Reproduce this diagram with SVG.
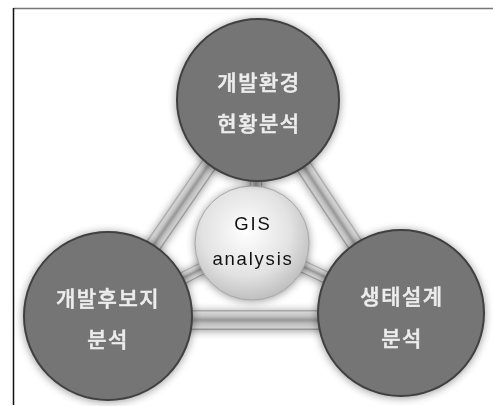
<svg xmlns="http://www.w3.org/2000/svg" width="493" height="406" viewBox="0 0 493 406">
<defs>
  <linearGradient id="tube" x1="0" y1="0" x2="0" y2="1">
    <stop offset="0" stop-color="#9a9a9a"/>
    <stop offset="0.12" stop-color="#d4d4d4"/>
    <stop offset="0.3" stop-color="#c4c4c4"/>
    <stop offset="0.5" stop-color="#979797"/>
    <stop offset="0.68" stop-color="#bdbdbd"/>
    <stop offset="0.88" stop-color="#d0d0d0"/>
    <stop offset="1" stop-color="#858585"/>
  </linearGradient>
  <linearGradient id="tubeV" x1="0" y1="0" x2="1" y2="0">
    <stop offset="0" stop-color="#9a9a9a"/>
    <stop offset="0.15" stop-color="#d4d4d4"/>
    <stop offset="0.5" stop-color="#a0a0a0"/>
    <stop offset="0.85" stop-color="#cfcfcf"/>
    <stop offset="1" stop-color="#888888"/>
  </linearGradient>
  <radialGradient id="core" cx="0.45" cy="0.4" r="0.65">
    <stop offset="0" stop-color="#ffffff"/>
    <stop offset="0.6" stop-color="#e2e2e2"/>
    <stop offset="1" stop-color="#b8b8b8"/>
  </radialGradient>
  <filter id="shadow" x="-30%" y="-30%" width="160%" height="160%" color-interpolation-filters="sRGB">
    <feGaussianBlur in="SourceAlpha" stdDeviation="4"/>
    <feOffset dx="0" dy="1" result="b"/>
    <feComponentTransfer><feFuncA type="linear" slope="0.4"/></feComponentTransfer>
    <feMerge><feMergeNode/><feMergeNode in="SourceGraphic"/></feMerge>
  </filter>
  <style>
    .outer{fill:#757575;stroke:#404040;stroke-width:2}
    .ko{font-family:"Noto Sans CJK KR","Noto Sans",sans-serif;font-size:21px;font-weight:500;fill:#ededed;stroke:#ededed;stroke-width:0.5px;text-anchor:middle;letter-spacing:1.5px}
    .en{font-family:"Liberation Sans",Arial,sans-serif;font-size:18.5px;fill:#111111;text-anchor:middle;letter-spacing:1.8px}
  </style>
</defs>
<rect x="0" y="0" width="493" height="406" fill="#ffffff"/>
<line x1="13" y1="8.5" x2="493" y2="8.5" stroke="#777777" stroke-width="1.5"/>
<line x1="13.5" y1="8" x2="13.5" y2="405" stroke="#111111" stroke-width="1.5"/>

<g id="connectors" filter="url(#shadow)">
  <rect x="-75" y="-8" width="150" height="16" fill="url(#tube)" transform="translate(182.5,203) rotate(-55.5)"/>
  <rect x="-75" y="-8" width="150" height="16" fill="url(#tube)" transform="translate(329.5,205.5) rotate(56.5)"/>
  <rect x="185" y="310" width="140" height="20" fill="url(#tube)"/>
  <rect x="250" y="168" width="12" height="36" fill="url(#tubeV)"/>
  <rect x="-30" y="-6" width="60" height="12" fill="url(#tube)" transform="translate(192,273.5) rotate(-27)"/>
  <rect x="-30" y="-6" width="60" height="12" fill="url(#tube)" transform="translate(314.5,272) rotate(25.2)"/>
</g>

<g id="node-center" filter="url(#shadow)">
  <circle cx="252" cy="243" r="57" fill="url(#core)" stroke="#a8a8a8" stroke-width="1"/>
  <text class="en" x="253" y="230">GIS</text>
  <text class="en" x="253" y="264.5">analysis</text>
</g>

<g id="node-top" filter="url(#shadow)">
  <circle class="outer" cx="258" cy="100" r="81"/>
  <text class="ko" x="259" y="90">개발환경</text>
  <text class="ko" x="259" y="131">현황분석</text>
</g>

<g id="node-left" filter="url(#shadow)">
  <circle class="outer" cx="108" cy="316" r="84"/>
  <text class="ko" x="108" y="306">개발후보지</text>
  <text class="ko" x="108" y="347">분석</text>
</g>

<g id="node-right" filter="url(#shadow)">
  <circle class="outer" cx="401" cy="313" r="83"/>
  <text class="ko" x="402" y="304">생태설계</text>
  <text class="ko" x="402" y="346">분석</text>
</g>
</svg>
